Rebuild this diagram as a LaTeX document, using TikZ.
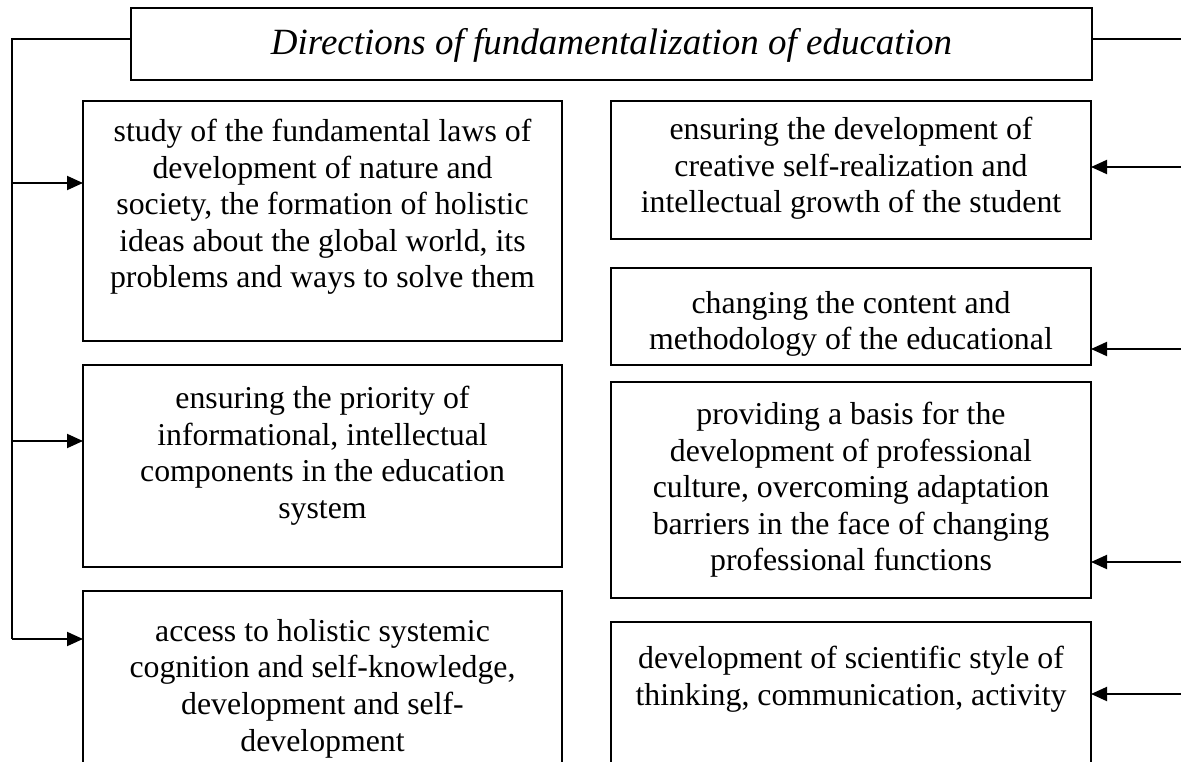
\documentclass[tikz,border=0pt]{standalone}
\usepackage{fontspec}
\setmainfont{Liberation Serif}
\usetikzlibrary{arrows.meta}
\begin{document}
\begin{tikzpicture}[x=1pt,y=-1pt,
 box/.style={draw, line width=1.9pt, inner sep=0pt, outer sep=0pt, anchor=north west},
 txt/.style={inner sep=0pt, align=center, font=\fontsize{31.8}{36.6}\selectfont, anchor=north},
 arr/.style={line width=1.9pt, -{Triangle[length=16pt,width=14pt]}},
 ln/.style={line width=1.9pt}]
\clip (0,0) rectangle (1181,762);
\fill[white] (0,0) rectangle (1181,762);
% title
\node[box, minimum width=961pt, minimum height=72pt] (T) at (131,8) {};
\node[font=\fontsize{37}{42}\selectfont\itshape, inner sep=0pt] (Tt) at ([yshift=-1pt]T.center) {Directions of fundamentalization of education};
% left boxes
\node[box, minimum width=479pt, minimum height=240pt] (L1) at (83,101) {};
\node[box, minimum width=479pt, minimum height=202pt] (L2) at (83,365) {};
\node[box, minimum width=479pt, minimum height=190pt] (L3) at (83,591) {};
% right boxes
\node[box, minimum width=480pt, minimum height=138pt] (R1) at (611,101) {};
\node[box, minimum width=480pt, minimum height=97pt] (R2) at (611,268) {};
\node[box, minimum width=480pt, minimum height=216pt] (R3) at (611,382) {};
\node[box, minimum width=480pt, minimum height=160pt] (R4) at (611,622) {};
% texts
\node[txt] (L1t) at (322.5,119) {study of the fundamental laws of\\development of nature and\\society, the formation of holistic\\ideas about the global world, its\\problems and ways to solve them};
\node[txt] (L2t) at (322.5,386) {ensuring the priority of\\informational, intellectual\\components in the education\\system};
\node[txt] (L3t) at (322.5,619) {access to holistic systemic\\cognition and self-knowledge,\\development and self-\\development};
\node[txt] (R1t) at (851,117) {ensuring the development of\\creative self-realization and\\intellectual growth of the student};
\node[txt] (R2t) at (851,291) {changing the content and\\methodology of the educational};
\node[txt] (R3t) at (851,402) {providing a basis for the\\development of professional\\culture, overcoming adaptation\\barriers in the face of changing\\professional functions};
\node[txt] (R4t) at (851,646) {development of scientific style of\\thinking, communication, activity};
% connectors left
\coordinate (lt) at (12,39);
\coordinate (lb) at (12,639);
\coordinate (a1) at (12,183);
\coordinate (a2) at (12,441);
\draw[ln] (T.west |- lt) -- (lt) -- (lb);
\draw[arr] (a1) -- (a1 -| L1.west);
\draw[arr] (a2) -- (a2 -| L2.west);
\draw[arr] (lb) -- (lb -| L3.west);
% connectors right
\coordinate (rt) at (1181,39);
\coordinate (b1) at (1181,167);
\coordinate (b2) at (1181,349);
\coordinate (b3) at (1181,562);
\coordinate (b4) at (1181,694);
\draw[ln] (T.east |- rt) -- (rt);
\draw[arr] (b1) -- (b1 -| R1.east);
\draw[arr] (b2) -- (b2 -| R2.east);
\draw[arr] (b3) -- (b3 -| R3.east);
\draw[arr] (b4) -- (b4 -| R4.east);
\end{tikzpicture}
\end{document}
